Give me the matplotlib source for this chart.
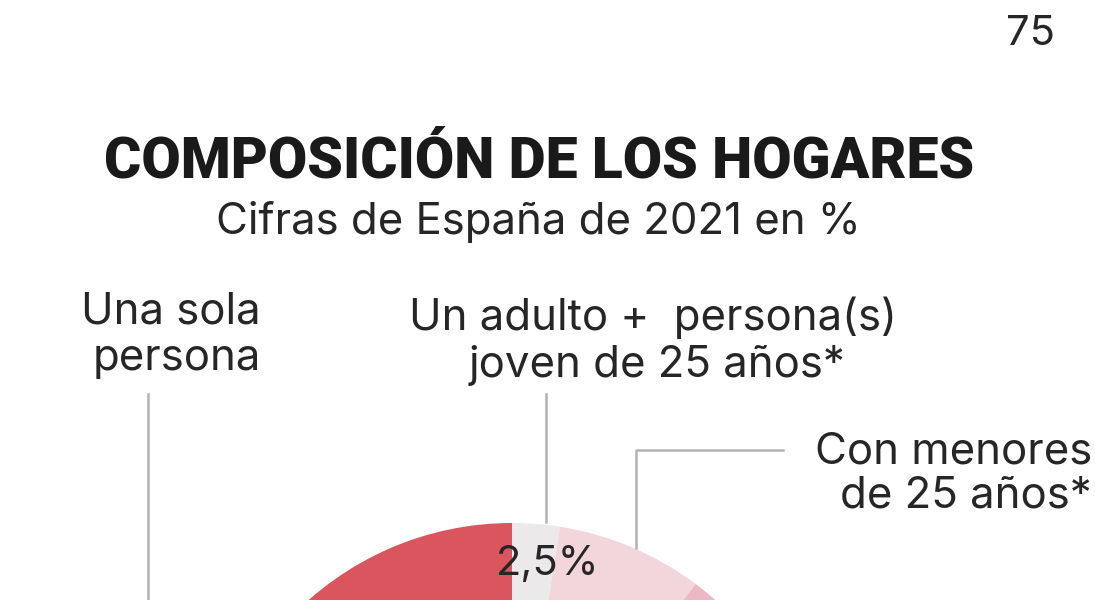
import matplotlib.pyplot as plt

# datos (INE 2021, en %)
categorias = [
    "Un adulto + persona(s) joven de 25 años*",
    "Con menores de 25 años*",
    "Pareja sin hijos",
    "Pareja con hijos",
    "Otros",
    "Una sola persona",
]
valores = [2.5, 7.7, 21.0, 33.0, 9.6, 26.2]
colores = ["#ECE9EB", "#F3D5DC", "#EAB9C5", "#E08E9C", "#D46C78", "#DA555D"]
etiquetas_pct = ["2,5%", "7,7%"]

fuente = "Inter"
peso = "normal"
tam = 31.5
gris_linea = "#B3B3B3"
texto = "#262626"

fig = plt.figure(figsize=(10.95, 6.0), dpi=100)
ax = fig.add_axes([0, 0, 1, 1])

# tarta (solo se ve la parte superior)
ax.pie(valores, colors=colores, startangle=90, counterclock=False,
       center=(512, -230), radius=307, frame=True,
       wedgeprops=dict(linewidth=0))
ax.set_xlim(0, 1095)
ax.set_ylim(0, 600)
ax.axis("off")

# pagina
ax.text(1055, 600 - 45, "75", ha="right", va="baseline", fontsize=30,
        family=fuente, fontweight=peso, color=texto)

# titulo y subtitulo
ax.text(539, 600 - 178, "COMPOSICIÓN DE LOS HOGARES", ha="center",
        va="baseline", fontsize=41, family="Roboto", fontweight="black",
        color="#1A1A1A")
ax.text(538, 600 - 234, "Cifras de España de 2021 en %", ha="center",
        va="baseline", fontsize=tam, family=fuente, fontweight=peso,
        color=texto)

# etiquetas de categorias
kw = dict(va="baseline", fontsize=tam, family=fuente, fontweight=peso,
          color=texto)
ax.text(261, 600 - 323, "Una sola", ha="right", **kw)
ax.text(261, 600 - 370, "persona", ha="right", **kw)
ax.text(653, 600 - 330, "Un adulto +  persona(s)", ha="center", **kw)
ax.text(657, 600 - 377, "joven de 25 años*", ha="center", **kw)
ax.text(1092, 600 - 463, "Con menores", ha="right", **kw)
ax.text(1092, 600 - 508, "de 25 años*", ha="right", **kw)

# lineas guia
ax.plot([148, 148], [600 - 394, 0], color=gris_linea, lw=1.8)
ax.plot([546, 546], [600 - 394, 600 - 522], color=gris_linea, lw=1.8)
ax.plot([783, 636, 636], [600 - 450, 600 - 450, 600 - 548],
        color=gris_linea, lw=1.8)

# porcentajes
ax.text(548, 600 - 575, etiquetas_pct[0], ha="center", va="baseline",
        fontsize=30, family=fuente, fontweight=peso, color=texto)
ax.text(628, 600 - 632, etiquetas_pct[1], ha="center", va="baseline",
        fontsize=30, family=fuente, fontweight=peso, color=texto,
        clip_on=False)

fig.savefig("out.png", dpi=100)
